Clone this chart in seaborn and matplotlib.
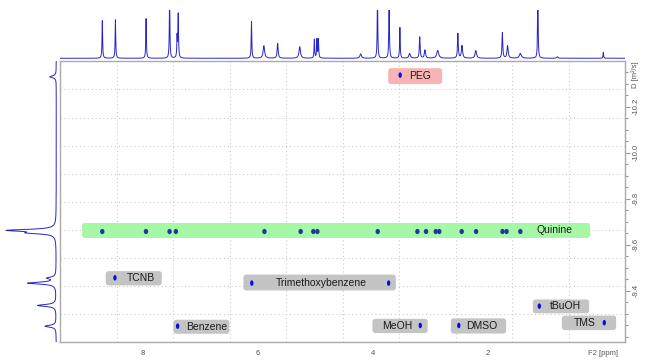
import numpy as np
import pandas as pd
import matplotlib
matplotlib.use("Agg")
import matplotlib.pyplot as plt
from matplotlib.patches import FancyBboxPatch
from matplotlib.markers import MarkerStyle
from matplotlib.transforms import Affine2D
from matplotlib.ticker import MultipleLocator
import seaborn as sns

# --- DOSY cross peaks: F2 shift (ppm) and log D ---
quinine_ppm = [8.71, 7.95, 7.54, 7.43, 5.89, 5.26, 5.04, 4.97, 3.92,
               3.23, 3.08, 2.91, 2.85, 2.46, 2.21, 1.75, 1.68, 1.44]
quinine_logd = [-9.658] * len(quinine_ppm)

compound_names = ["PEG", "TCNB", "Trimethoxybenzene", "Trimethoxybenzene",
                  "Benzene", "MeOH", "DMSO", "tBuOH", "TMS"]
compound_ppm = [3.53, 8.49, 6.11, 3.73, 7.40, 3.18, 2.51, 1.11, -0.02]
compound_logd = [-10.337, -9.457, -9.434, -9.434, -9.247, -9.250, -9.250, -9.334, -9.262]

# --- 1D 1H spectrum (top projection): peak list ---
f2_peak_ppm = [8.709, 8.481, 7.948, 7.539, 7.409, 7.389, 6.115, 5.900, 5.660, 5.276,
               5.022, 4.977, 4.951, 4.216, 3.924, 3.722, 3.534, 3.365, 3.189, 3.098,
               2.877, 2.526, 2.454, 2.214, 1.752, 1.661, 1.440, 1.135, 0.797, -0.003]
f2_peak_height = [0.78, 0.80, 0.82, 1.30, 0.44, 0.91, 0.76, 0.26, 0.31, 0.24,
                  0.39, 0.39, 0.39, 0.09, 1.30, 1.30, 0.64, 0.10, 0.44, 0.17,
                  0.16, 0.51, 0.26, 0.16, 0.53, 0.26, 0.10, 1.30, 0.03, 0.12]
f2_peak_width = [0.006, 0.006, 0.006, 0.006, 0.006, 0.006, 0.006, 0.015, 0.01, 0.015,
                 0.006, 0.006, 0.006, 0.015, 0.006, 0.006, 0.006, 0.015, 0.008, 0.012,
                 0.02, 0.008, 0.012, 0.015, 0.008, 0.012, 0.02, 0.006, 0.015, 0.006]

# --- diffusion projection (left): peak list ---
proj_logd = [-10.330, -9.663, -9.652, -9.456, -9.434, -9.337, -9.247]
proj_height = [0.14, 1.00, 0.50, 0.18, 0.61, 0.40, 0.24]

# label boxes: (text, ppm left, ppm right, logD top, logD bottom, text ppm, colour)
labels = [
    ("PEG", 3.739, 2.800, -10.367, -10.298, 3.183, "#f6b4b4"),
    ("Quinine", 9.061, 0.226, -9.695, -9.630, 0.852, "#a6f7a6"),
    ("TCNB", 8.649, 7.675, -9.486, -9.424, 8.035, "#c4c4c4"),
    ("Trimethoxybenzene", 6.256, 3.605, -9.471, -9.402, 4.904, "#c4c4c4"),
    ("Benzene", 7.473, 6.499, -9.275, -9.214, 6.896, "#c4c4c4"),
    ("MeOH", 4.012, 3.051, -9.279, -9.217, 3.583, "#c4c4c4"),
    ("DMSO", 2.649, 1.687, -9.281, -9.215, 2.113, "#c4c4c4"),
    ("tBuOH", 1.223, 0.243, -9.363, -9.303, 0.66, "#c4c4c4"),
    ("TMS", 0.718, -0.226, -9.293, -9.230, 0.313, "#c4c4c4"),
]

XLIM = (9.44, -0.38)
YLIM = (-9.177, -10.397)

sns.set_theme(style="white")
plt.rcParams["font.family"] = ["Liberation Sans", "DejaVu Sans"]

fig = plt.figure(figsize=(6.47, 3.63), dpi=100)
W, H = 647.0, 363.0
ax = fig.add_axes([60.3 / W, 20.7 / H, 564.7 / W, 281.0 / H])
ax_top = fig.add_axes([60.3 / W, (H - 59) / H, 564.7 / W, 49 / H])
ax_left = fig.add_axes([0, 20.7 / H, 56.8 / W, 281.0 / H])

# grid: dotted lines every 10 % of the frame
for f in np.arange(0.1, 0.95, 0.1):
    ax.plot([f, f], [0, 1], transform=ax.transAxes, color="#cccccc",
            lw=0.8, ls=(0, (1, 2.5)), zorder=0)
    ax.plot([0, 1], [f, f], transform=ax.transAxes, color="#cccccc",
            lw=0.8, ls=(0, (1, 2.5)), zorder=0)

# label boxes
for name, x0, x1, y0, y1, xt, col in labels:
    box = FancyBboxPatch((min(x0, x1), min(y0, y1)), abs(x0 - x1), abs(y1 - y0),
                         boxstyle="round,pad=0,rounding_size=0.055",
                         mutation_aspect=0.25, fc=col, ec="none", zorder=1)
    ax.add_patch(box)
    ax.text(xt, (y0 + y1) / 2, name, ha="center", va="center",
            fontsize=7.5, color="#1a1a1a", zorder=3)

# cross peaks
ell = MarkerStyle("o", transform=Affine2D().scale(0.6, 1.0))
blob = MarkerStyle("o", transform=Affine2D().scale(0.85, 1.0))
dots = pd.concat([
    pd.DataFrame({"ppm": quinine_ppm, "logd": quinine_logd, "group": "Quinine"}),
    pd.DataFrame({"ppm": compound_ppm, "logd": compound_logd, "group": "other"}),
])
sns.scatterplot(data=dots[dots.group == "Quinine"], x="ppm", y="logd", ax=ax,
                marker=blob, s=14, color="#1c3a9e", edgecolor="none", zorder=4, legend=False)
sns.scatterplot(data=dots[dots.group == "other"], x="ppm", y="logd", ax=ax,
                marker=ell, s=16, color="#0a0ae6", edgecolor="none", zorder=4, legend=False)

ax.set_xlim(*XLIM)
ax.set_ylim(*YLIM)
ax.set_xlabel("")
ax.set_ylabel("")

ax.set_xticks([8, 6, 4, 2, 0])
ax.set_xticklabels(["8", "6", "4", "2", "F2 [ppm]"])
ax.xaxis.set_minor_locator(MultipleLocator(0.5))
ax.yaxis.tick_right()
ax.set_yticks([-10.2, -10.0, -9.8, -9.6, -9.4])
ax.set_yticklabels(["-10.2", "-10.0", "-9.8", "-9.6", "-9.4"], rotation=90, va="center")
ax.yaxis.set_minor_locator(MultipleLocator(0.05))
ax.tick_params(axis="both", which="both", direction="out", color="#999999",
               labelsize=5.5, labelcolor="#555555", width=0.8, pad=2)
ax.tick_params(axis="both", which="major", length=3.5)
ax.tick_params(axis="both", which="minor", length=2.5)
ax.tick_params(axis="y", which="both", left=False, right=True)
for s in ax.spines.values():
    s.set_color("#aaaaaa")
    s.set_linewidth(1.0)
ax.text(1.018, 0.951, "D [m\u00b2/s]", transform=ax.transAxes, rotation=90,
        ha="center", va="center", fontsize=5.5, color="#555555")

# top 1D spectrum
ppm_grid = np.linspace(-0.4, 9.5, 8000)
spec = np.zeros_like(ppm_grid)
for p, h, w in zip(f2_peak_ppm, f2_peak_height, f2_peak_width):
    spec += h / (1 + ((ppm_grid - p) / w) ** 2)
sns.lineplot(x=ppm_grid, y=spec, ax=ax_top, color="#2626c8", lw=0.7, sort=False)
ax_top.set_xlim(*XLIM)
ax_top.set_ylim(-0.015, 1.0)
ax_top.axis("off")

# left diffusion projection
d_grid = np.linspace(-10.397, -9.177, 3000)
proj = np.zeros_like(d_grid)
for d, h in zip(proj_logd, proj_height):
    proj += h / (1 + ((d_grid - d) / 0.005) ** 2)
sns.lineplot(x=proj, y=d_grid, ax=ax_left, color="#2626c8", lw=0.7,
             sort=False, orient="y")
ax_left.set_ylim(*YLIM)
ax_left.set_xlim(1.215, -0.012)
ax_left.axis("off")

fig.savefig("out.png", dpi=100, facecolor="white")
